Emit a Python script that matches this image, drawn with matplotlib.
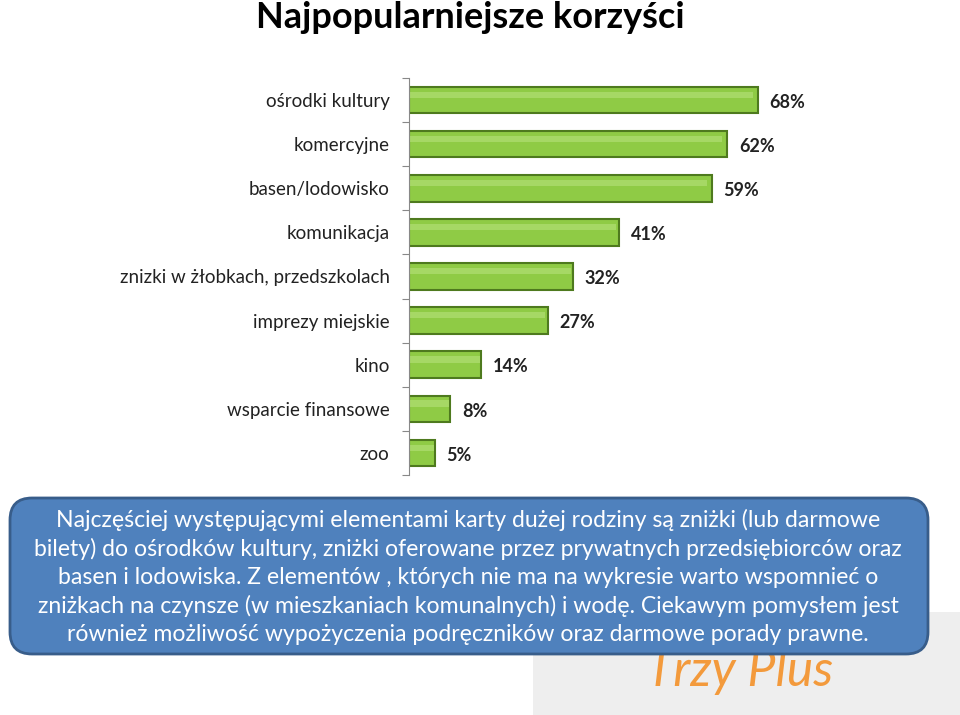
import matplotlib
matplotlib.use("Agg")
import matplotlib.pyplot as plt
from matplotlib.patches import FancyBboxPatch, Rectangle

categories = ["ośrodki kultury", "komercyjne", "basen/lodowisko", "komunikacja",
              "znizki w żłobkach, przedszkolach", "imprezy miejskie", "kino",
              "wsparcie finansowe", "zoo"]
values = [68, 62, 59, 41, 32, 27, 14, 8, 5]
value_labels = ["68%", "62%", "59%", "41%", "32%", "27%", "14%", "8%", "5%"]
title = "Najpopularniejsze korzyści"
note = ("Najczęściej występującymi elementami karty dużej rodziny są zniżki (lub darmowe\n"
        "bilety) do ośrodków kultury, zniżki oferowane przez prywatnych przedsiębiorców oraz\n"
        "basen i lodowiska. Z elementów , których nie ma na wykresie warto wspomnieć o\n"
        "zniżkach na czynsze (w mieszkaniach komunalnych) i wodę. Ciekawym pomysłem jest\n"
        "również możliwość wypożyczenia podręczników oraz darmowe porady prawne.")

W, H = 960, 715
fig = plt.figure(figsize=(W/100, H/100), dpi=100)
fig.patch.set_facecolor("white")

# background logo area
bg = fig.add_axes([0, 0, 1, 1])
bg.set_xlim(0, W); bg.set_ylim(H, 0); bg.axis("off")
bg.add_patch(Rectangle((533, 612), 427, 103, facecolor="#EEEEEE", edgecolor="none", zorder=0))
bg.text(740, 672, "Trzy Plus", fontsize=36, color="#F39A3C", ha="center", va="center",
        family="Lato", style="italic", zorder=1)

# chart axes
x0, x1 = 409, 922
y0, y1 = 78, 475
ax = fig.add_axes([x0/W, 1 - y1/H, (x1 - x0)/W, (y1 - y0)/H])
ax.set_facecolor("none")
ypos = list(range(len(categories)))
ax.barh(ypos, values, height=0.6, color="#8FCB45", edgecolor="#4E7A1E", linewidth=1.5)
for y, v in zip(ypos, values):
    ax.barh(y - 0.12, v * 0.985, height=0.14, color="#A6D865", edgecolor="none")
for y, v, lab in zip(ypos, values, value_labels):
    ax.text(v + 2.3, y + 0.05, lab, fontsize=13, fontweight="bold", va="center", ha="left",
            family="Lato", color="#222222")
ax.set_xlim(0, 100)
ax.set_ylim(len(categories) - 0.5, -0.5)
ax.set_yticks([i - 0.5 for i in range(len(categories) + 1)], minor=False)
ax.set_yticklabels([])
ax.set_yticks(ypos, minor=True)
ax.set_yticklabels(categories, minor=True, fontsize=13.5, family="Lato", color="#222222")
ax.tick_params(axis="y", which="major", length=5, color="#888888")
ax.tick_params(axis="y", which="minor", length=0, pad=14)
ax.set_xticks([])
for s in ["top", "right", "bottom"]:
    ax.spines[s].set_visible(False)
ax.spines["left"].set_color("#888888")

# title
fig.text(470/W, 1 - 18/H, title, fontsize=26, fontweight="bold", ha="center", va="center",
         family="Lato")

# text box
box = FancyBboxPatch((10, 498), 918, 156, boxstyle="round,pad=0,rounding_size=22",
                     facecolor="#4F81BD", edgecolor="#385D8A", linewidth=2, zorder=2)
bg.add_patch(box)
bg.text(468, 577, note, fontsize=16.6, color="white", ha="center", va="center",
        family="Lato", linespacing=1.40, zorder=3)

fig.savefig("out.png", dpi=100)
